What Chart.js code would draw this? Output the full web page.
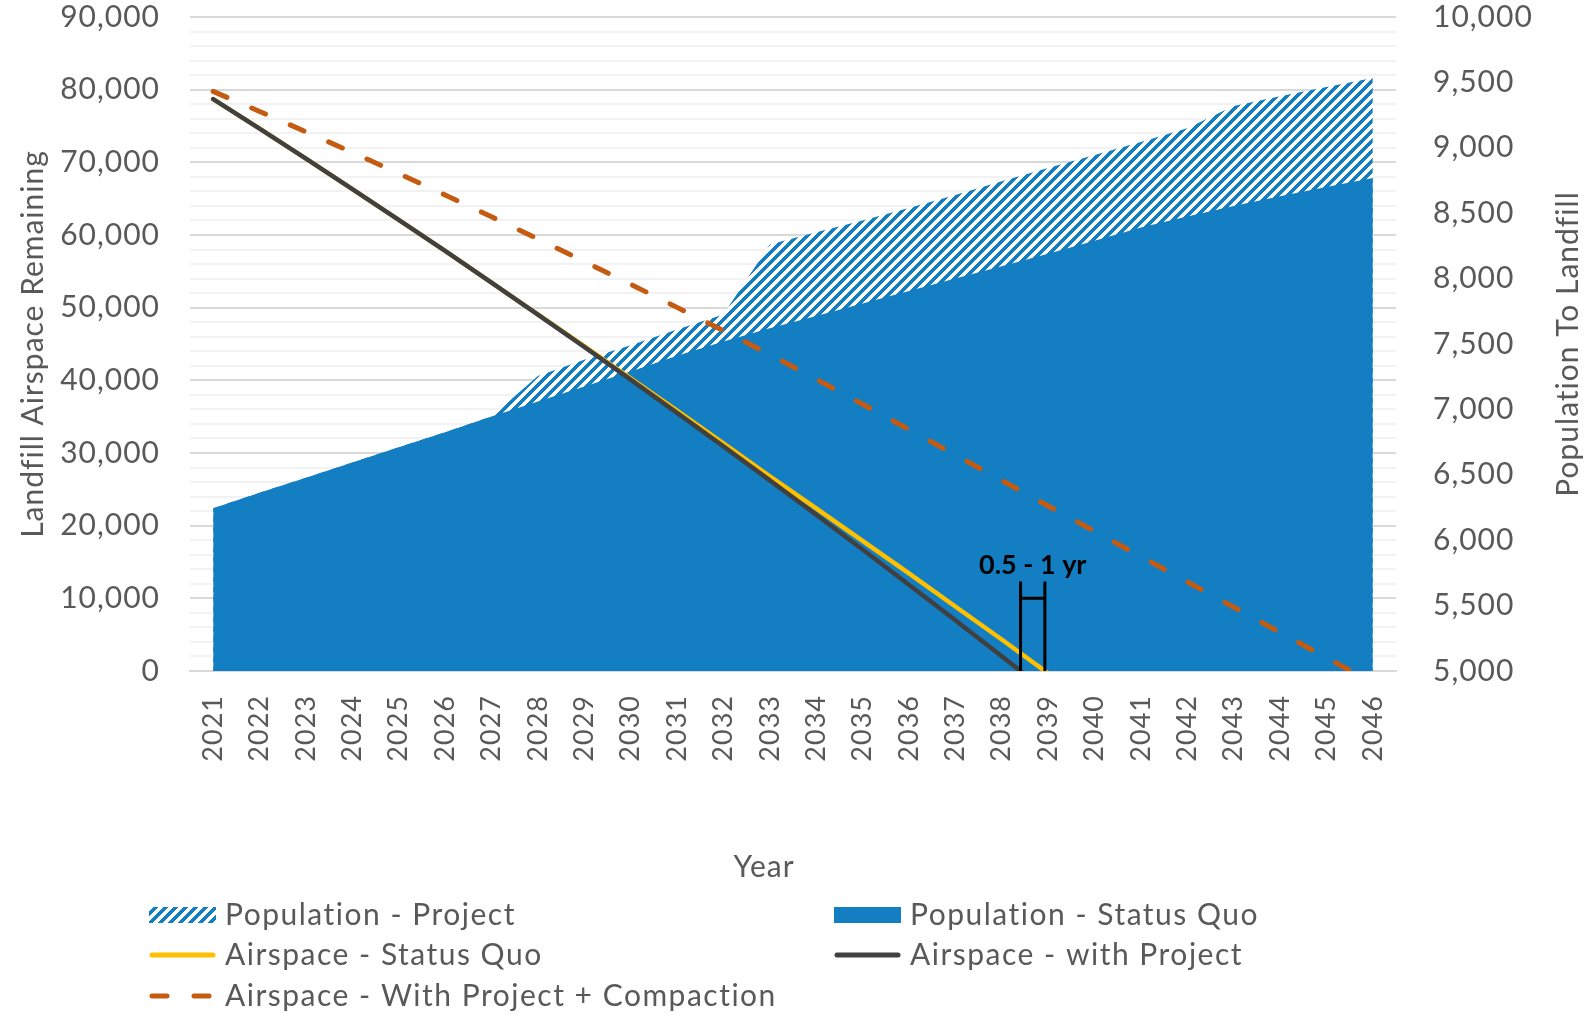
<!DOCTYPE html>
<html>
<head>
<meta charset="utf-8">
<script src="https://cdn.jsdelivr.net/npm/chart.js@4.4.1/dist/chart.umd.min.js"></script>
<style>
  html, body { margin: 0; padding: 0; background: #fff; }
</style>
</head>
<body>
<canvas id="chart" width="1588" height="1015"></canvas>
<script>
const years = ['2021', '2022', '2023', '2024', '2025', '2026', '2027', '2028', '2029', '2030', '2031', '2032', '2033',
    '2034', '2035', '2036', '2037', '2038', '2039', '2040', '2041', '2042', '2043', '2044', '2045', '2046'];

// population (right axis)
const popProject = [6245, 6362, 6478, 6594, 6710, 6826, 6945, 7255, 7380, 7490, 7610, 7725, 8260,
    8355, 8445, 8540, 8640, 8745, 8845, 8945, 9045, 9150, 9320, 9395, 9465, 9534];
const popStatusQuo = [6245, 6362, 6478, 6594, 6710, 6826, 6945, 7060, 7175, 7290, 7410, 7520, 7620,
    7715, 7810, 7905, 8000, 8095, 8190, 8290, 8390, 8475, 8555, 8630, 8700, 8769];

// airspace remaining (left axis)
const airStatusQuo = [78700, 74630, 70505, 66325, 62090, 57800, 53455, 49085, 44700, 40280, 35825, 31325, 26790,
    22380, 17915, 13425, 8880, 4330, -325, null, null, null, null, null, null, null];
const airProject = [78700, 74630, 70505, 66325, 62090, 57800, 53455, 49055, 44600, 40090, 35525, 30905, 26230,
    21500, 16715, 11875, 6980, 2030, -2975, null, null, null, null, null, null, null];
const airCompaction = [79760, 77000, 74200, 71360, 68460, 65510, 62510, 59460, 56360, 53220, 50040, 46820, 43560,
    40160, 36710, 33230, 29730, 26225, 22715, 19235, 15755, 12275, 8795, 5315, 1835, -1645];

const seriesNames = ['Population - Project', 'Population - Status Quo', 'Airspace - Status Quo',
    'Airspace - with Project', 'Airspace - With Project + Compaction'];

const bracketLabel = '0.5 - 1 yr';
const xTitle = 'Year';
const rightTitle = 'Population To Landfill';

const BLUE = '#137EC2';
const TEXT = '#595959';
const FONT = 'Lato, "Open Sans", sans-serif';

function hatchPattern() {
    const c = document.createElement('canvas');
    c.width = c.height = 10;
    const g = c.getContext('2d');
    g.fillStyle = '#fff';
    g.fillRect(0, 0, 10, 10);
    g.fillStyle = BLUE;
    for (let y = 0; y < 10; y++) {
        for (let x = 0; x < 10; x++) {
            if ((x + y) % 10 < 5) g.fillRect(x, y, 1, 1);
        }
    }
    return g.createPattern(c, 'repeat');
}

function zeroCrossing(values) {
    for (let i = 0; i < values.length - 1; i++) {
        if (values[i] >= 0 && values[i + 1] !== null && values[i + 1] < 0) {
            return i + values[i] / (values[i] - values[i + 1]);
        }
    }
    return null;
}

// a bit of tracking so Lato gets closer to the wide Raleway of the original
const spacing = {
    id: 'spacing',
    beforeDraw(chart) { chart.ctx.letterSpacing = '1px'; }
};

// bracket between the two run-out points
const bracket = {
    id: 'bracket',
    afterDatasetsDraw(chart) {
        const { ctx, scales: { x, y } } = chart;
        const x1 = x.getPixelForValue(zeroCrossing(airProject));
        const x2 = x.getPixelForValue(zeroCrossing(airStatusQuo));
        const yBase = y.getPixelForValue(0);
        const yTop = y.getPixelForValue(12300);
        const yBar = y.getPixelForValue(10000);

        ctx.save();
        ctx.strokeStyle = '#000';
        ctx.lineWidth = 3;
        ctx.beginPath();
        ctx.moveTo(x1, yBase); ctx.lineTo(x1, yTop);
        ctx.moveTo(x2, yBase); ctx.lineTo(x2, yTop);
        ctx.moveTo(x1, yBar); ctx.lineTo(x2, yBar);
        ctx.stroke();

        ctx.fillStyle = '#000';
        ctx.font = 'bold 27px ' + FONT;
        ctx.letterSpacing = '0px';
        ctx.textAlign = 'center';
        ctx.textBaseline = 'middle';
        ctx.fillText(bracketLabel, (x1 + x2) / 2, y.getPixelForValue(14600));
        ctx.restore();
    }
};

// axis titles that Chart.js would place differently
const titles = {
    id: 'titles',
    afterDraw(chart) {
        const { ctx, chartArea } = chart;
        ctx.save();
        ctx.fillStyle = TEXT;
        ctx.font = '30px ' + FONT;
        ctx.textAlign = 'center';
        ctx.textBaseline = 'middle';
        ctx.fillText(xTitle, chartArea.left + chartArea.width / 2 - 29, 867);

        ctx.translate(chart.width - 20, (chartArea.top + chartArea.bottom) / 2);
        ctx.rotate(-Math.PI / 2);
        ctx.fillText(rightTitle, 0, 0);
        ctx.restore();
    }
};

// two-column legend like the Excel one
const gridLegend = {
    id: 'gridLegend',
    afterDraw(chart) {
        const ctx = chart.ctx;
        const cols = [149, 834];
        const rows = [915, 955, 996];

        ctx.save();
        chart.data.datasets.forEach((ds, i) => {
            const sx = cols[i % 2];
            const sy = rows[Math.floor(i / 2)];
            if (ds.fill) {
                ctx.fillStyle = ds.backgroundColor;
                ctx.fillRect(sx, sy - 8, 67, 16);
            } else {
                ctx.strokeStyle = ds.borderColor;
                ctx.lineWidth = 5;
                ctx.lineCap = 'round';
                ctx.setLineDash(ds.borderDash || []);
                ctx.beginPath();
                ctx.moveTo(sx + 3, sy);
                ctx.lineTo(sx + 64, sy);
                ctx.stroke();
                ctx.setLineDash([]);
            }
            ctx.fillStyle = TEXT;
            ctx.font = '30px ' + FONT;
            ctx.letterSpacing = '1.5px';
            ctx.textAlign = 'left';
            ctx.textBaseline = 'middle';
            ctx.fillText(ds.label, sx + 76, sy);
        });
        ctx.restore();
    }
};

function noVertPadding(scale) {
    scale.paddingTop = 0;
    scale.paddingBottom = 0;
}

const lineCommon = {
    type: 'line',
    fill: false,
    pointRadius: 0,
    tension: 0,
    borderCapStyle: 'round',
    borderJoinStyle: 'round',
    clip: 0,
    yAxisID: 'y'
};

new Chart(document.getElementById('chart'), {
    type: 'line',
    plugins: [spacing, bracket, titles, gridLegend],
    data: {
        labels: years,
        datasets: [
            {
                label: seriesNames[0],
                data: popProject,
                yAxisID: 'y1',
                fill: 'start',
                backgroundColor: hatchPattern(),
                borderWidth: 0,
                borderColor: 'transparent',
                pointRadius: 0,
                tension: 0,
                order: 5
            },
            {
                label: seriesNames[1],
                data: popStatusQuo,
                yAxisID: 'y1',
                fill: 'start',
                backgroundColor: BLUE,
                borderWidth: 0,
                borderColor: 'transparent',
                pointRadius: 0,
                tension: 0,
                order: 4
            },
            {
                ...lineCommon,
                label: seriesNames[2],
                data: airStatusQuo,
                borderColor: '#FFC000',
                borderWidth: 4.5,
                order: 3
            },
            {
                ...lineCommon,
                label: seriesNames[3],
                data: airProject,
                borderColor: '#404040',
                borderWidth: 4.5,
                order: 2
            },
            {
                ...lineCommon,
                label: seriesNames[4],
                data: airCompaction,
                borderColor: '#C55A11',
                borderWidth: 5,
                borderDash: [15, 27],
                order: 1
            }
        ]
    },
    options: {
        responsive: false,
        animation: false,
        layout: { padding: { top: 17, left: 0, right: 0, bottom: 125 } },
        plugins: {
            legend: { display: false },
            tooltip: { enabled: false }
        },
        scales: {
            x: {
                offset: true,
                grid: { display: false, drawTicks: false },
                border: { display: true, color: '#d9d9d9', width: 2 },
                ticks: {
                    color: TEXT,
                    font: { family: FONT, size: 27 },
                    minRotation: 90,
                    maxRotation: 90,
                    autoSkip: false,
                    padding: 24
                },
                afterFit(scale) { scale.height = 219; }
            },
            y: {
                position: 'left',
                min: 0,
                max: 90000,
                grid: {
                    drawTicks: false,
                    lineWidth: 2,
                    color: c => (c.tick.value % 10000 === 0 ? '#d9d9d9' : '#f2f2f2')
                },
                border: { display: false },
                ticks: {
                    stepSize: 2000,
                    autoSkip: false,
                    color: TEXT,
                    font: { family: FONT, size: 30 },
                    padding: 30,
                    callback: v => (v % 10000 === 0 ? v.toLocaleString('en-US') : '')
                },
                title: {
                    display: true,
                    text: 'Landfill Airspace Remaining',
                    color: TEXT,
                    font: { family: FONT, size: 30 },
                    padding: { top: 15, bottom: 0 }
                },
                afterFit(scale) {
                    scale.width = 190;
                    noVertPadding(scale);
                }
            },
            y1: {
                position: 'right',
                min: 5000,
                max: 10000,
                grid: { display: false, drawOnChartArea: false, drawTicks: false },
                border: { display: false },
                ticks: {
                    stepSize: 500,
                    color: TEXT,
                    font: { family: FONT, size: 30 },
                    padding: 37,
                    callback: v => v.toLocaleString('en-US')
                },
                afterFit(scale) {
                    scale.width = 192;
                    noVertPadding(scale);
                }
            }
        }
    }
});
</script>
</body>
</html>
